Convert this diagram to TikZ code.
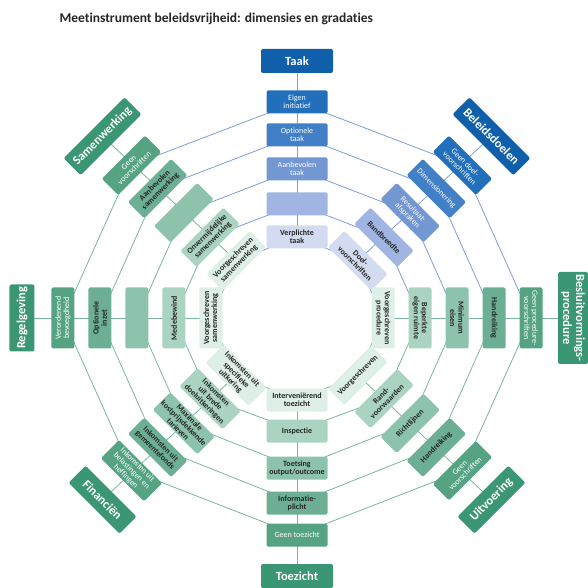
\documentclass[tikz,border=0pt]{standalone}
\usepackage{fontspec}
\setmainfont[Ligatures=NoCommon]{Carlito}
\usetikzlibrary{backgrounds}
\definecolor{blauwL}{HTML}{0F5FAA}
\definecolor{blauw5}{HTML}{2270BC}
\definecolor{blauw4}{HTML}{4180C6}
\definecolor{blauw3}{HTML}{7397D0}
\definecolor{blauw2}{HTML}{A0B5E1}
\definecolor{blauw1}{HTML}{D3DBF1}
\definecolor{groenL}{HTML}{3A9673}
\definecolor{groen5}{HTML}{56A384}
\definecolor{groen4}{HTML}{6CAF94}
\definecolor{groen3}{HTML}{8DC3AC}
\definecolor{groen2}{HTML}{AAD4C1}
\definecolor{groen1}{HTML}{DDEFE6}
\definecolor{lijnB}{HTML}{7F9ED1}
\definecolor{lijnG}{HTML}{79B69C}
\tikzset{
  dimensie/.style={rounded corners=2pt, text=white, align=center,
    font=\bfseries\fontsize{12.5}{13}\selectfont,
    minimum width=72pt, minimum height=24pt, inner sep=2pt},
  gradatie/.style={rounded corners=1.5pt, align=center,
    minimum width=61pt, minimum height=23pt, inner sep=1.2pt},
  donkerbox/.style={gradatie, text=white, font=\fontsize{8}{8.2}\selectfont},
  lichtbox/.style={gradatie, text=black!85, font=\bfseries\fontsize{8}{8.2}\selectfont},
  blauwlijn/.style={draw=lijnB, line width=0.8pt},
  groenlijn/.style={draw=lijnG, line width=0.8pt}
}
\begin{document}
\begin{tikzpicture}[x=1pt, y=1pt]
\useasboundingbox (-297,-270) rectangle (290,318);
\node[anchor=west, text=black!85, font=\bfseries\fontsize{13.5}{15}\selectfont] (titel) at (-241,299)
  {Meetinstrument beleidsvrijheid: dimensies en gradaties};
% Taak
\node[dimensie, fill=blauwL] (taak) at (90:275 and 257) {Taak};
\node[donkerbox, fill=blauw5] (taak5) at (90:234 and 216) {Eigen\\initiatief};
\node[donkerbox, fill=blauw4] (taak4) at (90:197 and 183) {Optionele\\taak};
\node[donkerbox, fill=blauw3] (taak3) at (90:160 and 149) {Aanbevolen\\taak};
\node[lichtbox, fill=blauw2] (taak2) at (90:123 and 114) {};
\node[lichtbox, fill=blauw1] (taak1) at (90:86 and 81) {Verplichte\\taak};
% Beleidsdoelen
\node[dimensie, fill=blauwL, rotate=-45, minimum width=86pt] (doel) at (45:275 and 257) {Beleidsdoelen};
\node[donkerbox, fill=blauw5, rotate=-45] (doel5) at (45:234 and 216) {Geen doel-\\voorschriften};
\node[donkerbox, fill=blauw4, rotate=-45] (doel4) at (45:197 and 183) {Dimensionering};
\node[donkerbox, fill=blauw3, rotate=-45] (doel3) at (45:160 and 149) {Resultaat-\\afspraken};
\node[lichtbox, fill=blauw2, rotate=-45] (doel2) at (45:123 and 114) {Bandbreedte};
\node[lichtbox, fill=blauw1, rotate=-45] (doel1) at (45:86 and 81) {Doel-\\voorschriften};
% Besluitvormingsprocedure
\node[dimensie, fill=groenL, rotate=-90, minimum width=92pt, minimum height=30pt] (besl) at (0:276 and 257) {Besluitvormings-\\procedure};
\node[donkerbox, fill=groen5, rotate=-90] (besl5) at (0:234 and 216) {Geen procedure-\\voorschriften};
\node[lichtbox, fill=groen4, rotate=-90] (besl4) at (0:197 and 183) {Handreiking};
\node[lichtbox, fill=groen3, rotate=-90] (besl3) at (0:160 and 149) {Minimum\\eisen};
\node[lichtbox, fill=groen2, rotate=-90] (besl2) at (0:123 and 114) {Beperkte\\eigen ruimte};
\node[lichtbox, fill=groen1, rotate=-90] (besl1) at (0:86 and 81) {Voorgeschreven\\procedure};
% Uitvoering
\node[dimensie, fill=groenL, rotate=45] (uitv) at (-45:275 and 257) {Uitvoering};
\node[donkerbox, fill=groen5, rotate=45] (uitv5) at (-45:234 and 216) {Geen\\voorschriften};
\node[lichtbox, fill=groen4, rotate=45] (uitv4) at (-45:197 and 183) {Handreiking};
\node[lichtbox, fill=groen3, rotate=45] (uitv3) at (-45:160 and 149) {Richtlijnen};
\node[lichtbox, fill=groen2, rotate=45] (uitv2) at (-45:123 and 114) {Rand-\\voorwaarden};
\node[lichtbox, fill=groen1, rotate=45] (uitv1) at (-45:86 and 81) {Voorgeschreven};
% Toezicht
\node[dimensie, fill=groenL] (toez) at (-90:275 and 258) {Toezicht};
\node[donkerbox, fill=groen5] (toez5) at (-90:234 and 217) {Geen toezicht};
\node[lichtbox, fill=groen4] (toez4) at (-90:197 and 185) {Informatie-\\plicht};
\node[lichtbox, fill=groen3] (toez3) at (-90:160 and 150) {Toetsing\\output/outcome};
\node[lichtbox, fill=groen2] (toez2) at (-90:123 and 113) {Inspectie};
\node[lichtbox, fill=groen1] (toez1) at (-90:86 and 82) {Interveniërend\\toezicht};
% Financien
\node[dimensie, fill=groenL, rotate=-45] (fin) at (-135:275 and 257) {Financiën};
\node[donkerbox, fill=groen5, rotate=-45] (fin5) at (-135:234 and 216) {Inkomsten uit\\belastingen en\\heffingen};
\node[lichtbox, fill=groen4, rotate=-45] (fin4) at (-135:197 and 183) {Inkomsten uit\\gemeentefonds};
\node[lichtbox, fill=groen3, rotate=-45] (fin3) at (-135:160 and 149) {Maximale\\kostprijsdekkende\\tarieven};
\node[lichtbox, fill=groen2, rotate=-45] (fin2) at (-135:123 and 114) {Inkomsten\\uit brede\\doeluitkeringen};
\node[lichtbox, fill=groen1, rotate=-45] (fin1) at (-135:86 and 81) {Inkomsten uit\\specifieke\\uitkering};
% Regelgeving
\node[dimensie, fill=groenL, rotate=90, minimum width=67pt, minimum height=25pt] (regel) at (180:275 and 257) {Regelgeving};
\node[donkerbox, fill=groen5, rotate=90] (regel5) at (180:234 and 216) {Verordenend\\bevoegdheid};
\node[lichtbox, fill=groen4, rotate=90] (regel4) at (180:197 and 183) {Optionele\\inzet};
\node[lichtbox, fill=groen3, rotate=90] (regel3) at (180:160 and 149) {};
\node[lichtbox, fill=groen2, rotate=90] (regel2) at (180:123 and 114) {Medebewind};
\node[lichtbox, fill=groen1, rotate=90] (regel1) at (180:86 and 81) {Voorgeschreven\\samenwerking};
% Samenwerking
\node[dimensie, fill=groenL, rotate=45, minimum width=86pt] (samen) at (135:275 and 257) {Samenwerking};
\node[donkerbox, fill=groen5, rotate=45] (samen5) at (135:234 and 216) {Geen\\voorschriften};
\node[lichtbox, fill=groen4, rotate=45] (samen4) at (135:197 and 183) {Aanbevolen\\samenwerking};
\node[lichtbox, fill=groen3, rotate=45] (samen3) at (135:160 and 149) {};
\node[lichtbox, fill=groen2, rotate=45] (samen2) at (135:123 and 114) {Onvermijdelijke\\samenwerking};
\node[lichtbox, fill=groen1, rotate=45] (samen1) at (135:86 and 81) {Voorgeschreven\\samenwerking};
%
\begin{pgfonlayer}{background}
\draw[blauwlijn] (taak.center) -- (taak1.center);
\draw[blauwlijn] (doel.center) -- (doel1.center);
\draw[groenlijn] (besl.center) -- (besl1.center);
\draw[groenlijn] (uitv.center) -- (uitv1.center);
\draw[groenlijn] (toez.center) -- (toez1.center);
\draw[groenlijn] (fin.center) -- (fin1.center);
\draw[groenlijn] (regel.center) -- (regel1.center);
\draw[groenlijn] (samen.center) -- (samen1.center);
\draw[blauwlijn] (samen1.center) -- (taak1.center) -- (doel1.center) -- (besl1.center);
\draw[blauwlijn] (samen2.center) -- (taak2.center) -- (doel2.center) -- (besl2.center);
\draw[blauwlijn] (samen3.center) -- (taak3.center) -- (doel3.center) -- (besl3.center);
\draw[blauwlijn] (samen4.center) -- (taak4.center) -- (doel4.center) -- (besl4.center);
\draw[blauwlijn] (samen5.center) -- (taak5.center) -- (doel5.center) -- (besl5.center);
\draw[groenlijn] (besl1.center) -- (uitv1.center) -- (toez1.center) -- (fin1.center) -- (regel1.center) -- (samen1.center);
\draw[groenlijn] (besl2.center) -- (uitv2.center) -- (toez2.center) -- (fin2.center) -- (regel2.center) -- (samen2.center);
\draw[groenlijn] (besl3.center) -- (uitv3.center) -- (toez3.center) -- (fin3.center) -- (regel3.center) -- (samen3.center);
\draw[groenlijn] (besl4.center) -- (uitv4.center) -- (toez4.center) -- (fin4.center) -- (regel4.center) -- (samen4.center);
\draw[groenlijn] (besl5.center) -- (uitv5.center) -- (toez5.center) -- (fin5.center) -- (regel5.center) -- (samen5.center);
\end{pgfonlayer}
\end{tikzpicture}
\end{document}
